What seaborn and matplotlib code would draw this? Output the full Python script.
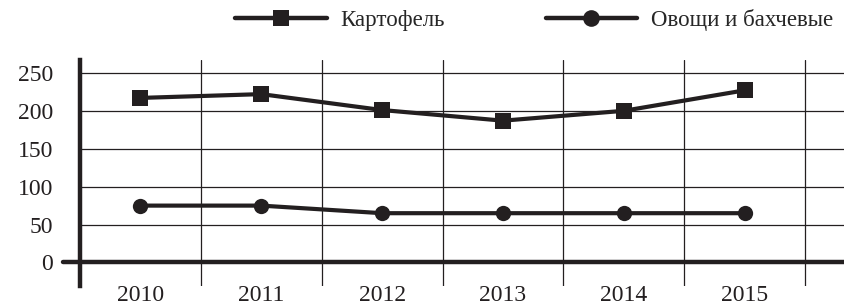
import pandas as pd
import seaborn as sns
import matplotlib.pyplot as plt
from matplotlib.lines import Line2D

years = ['2010', '2011', '2012', '2013', '2014', '2015']
potato = [217, 222, 201, 187, 200, 227]
veg = [75, 75, 65, 65, 65, 65]
names = ['Картофель', 'Овощи и бахчевые']

df = pd.DataFrame({
    'pos': list(range(len(years))) * 2,
    'value': potato + veg,
    'series': [names[0]] * len(years) + [names[1]] * len(years),
})

sns.set_style('white')
plt.rcParams['font.family'] = ['Liberation Serif', 'DejaVu Serif']

fig = plt.figure(figsize=(8.45, 3.05), dpi=100)
ax = fig.add_axes([80 / 845, 19 / 305, 765 / 845, 226 / 305])

sns.lineplot(data=df, x='pos', y='value', style='series', markers={names[0]: 's', names[1]: 'o'},
             dashes=False, color='#231f20', lw=3, markersize=11, markeredgewidth=0,
             legend=False, ax=ax)

ax.set_xlim(-0.5, 5.83)
ax.set_ylim(-31, 267)
ax.set_xticks(range(len(years)))
ax.set_xticklabels(years)
ax.set_yticks([0, 50, 100, 150, 200, 250])
ax.set_xlabel('')
ax.set_ylabel('')

ax.grid(False)
for y in [50, 100, 150, 200, 250]:
    ax.axhline(y, color='#231f20', lw=0.9, zorder=0)
for x in [i + 0.5 for i in range(6)]:
    ax.axvline(x, color='#231f20', lw=0.9, zorder=0)
ax.axhline(0, xmin=-17 / 765, xmax=1, color='#231f20', lw=3.2, clip_on=False, zorder=1)

for s in ['top', 'right', 'bottom']:
    ax.spines[s].set_visible(False)
ax.spines['left'].set_linewidth(3.2)
ax.spines['left'].set_color('#231f20')

ax.tick_params(axis='x', which='both', length=0, labelsize=17, pad=-1, colors='#231f20')
ax.tick_params(axis='y', length=12.5, width=0.9, labelsize=17, pad=7, colors='#231f20')

handles = [Line2D([], [], color='#231f20', lw=3.2, marker='s', markersize=11, markeredgewidth=0),
           Line2D([], [], color='#231f20', lw=3.2, marker='o', markersize=12, markeredgewidth=0)]
fig.legend(handles, names, loc='center', bbox_to_anchor=(0.632, 0.934), ncol=2, frameon=False,
           fontsize=16.5, handlelength=4.0, handletextpad=0.6, columnspacing=4.4, numpoints=1,
           borderpad=0)

fig.savefig('out.png', dpi=100)
